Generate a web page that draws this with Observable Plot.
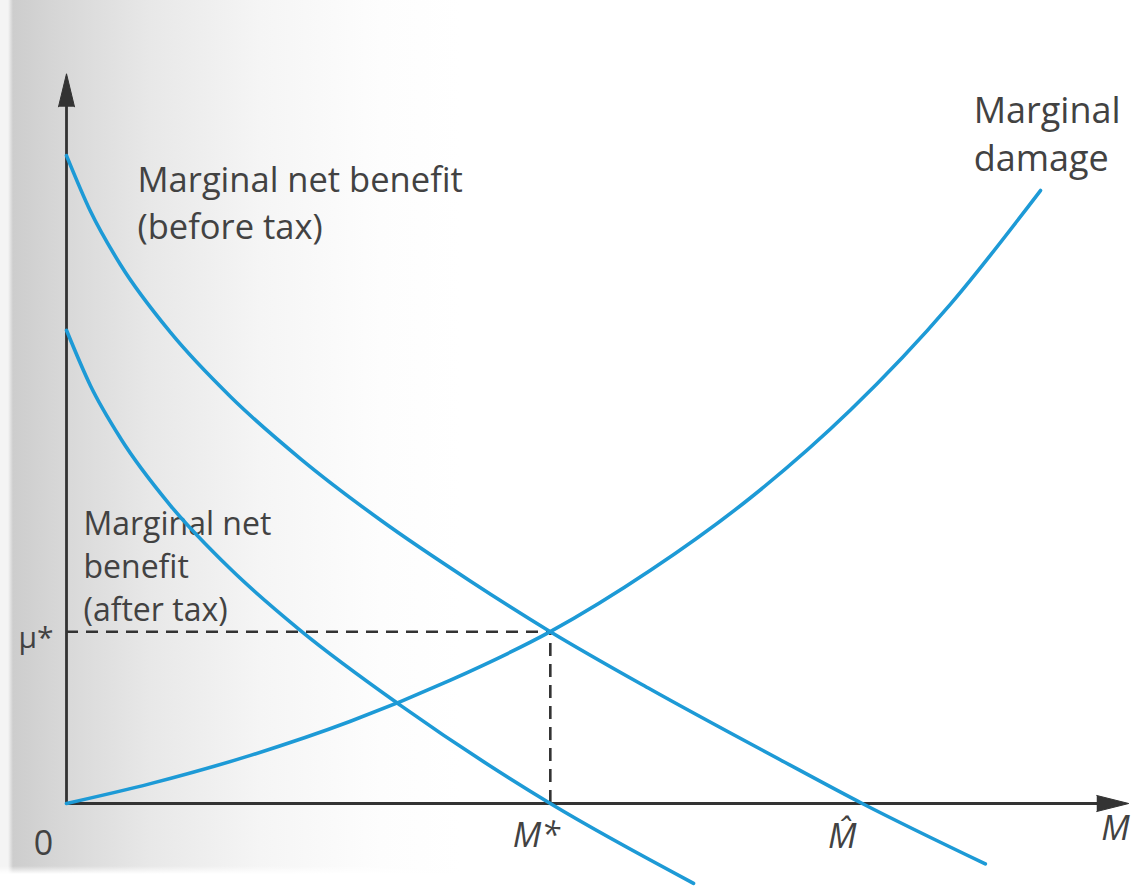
<!DOCTYPE html>
<html>
<head>
<meta charset="utf-8">
<script src="https://cdn.jsdelivr.net/npm/d3@7"></script>
<script src="https://cdn.jsdelivr.net/npm/@observablehq/plot@0.6"></script>
<style>
  html, body { margin: 0; padding: 0; background: #fff; }
  #chart {
    width: 1135px; height: 888px; overflow: hidden;
    background:
      linear-gradient(to bottom, rgba(255,255,255,0) 866px, #fff 874px),
      linear-gradient(to right, #f4f4f4 0px, #f4f4f4 8px, #cdcdcd 13px, #d7d7d7 60px, #e8e8e8 150px, #f5f5f5 260px, #fdfdfd 380px, #fff 460px);
  }
</style>
</head>
<body>
<div id="chart"></div>
<script>
// ---- Data (abstract units: x 0..100, y 0..100) ----
const beforeTaxX = [0, 2.26, 5.09, 9.8, 15.46, 22.06, 29.59, 38.08, 45.6, 55.04, 67.3, 75.0, 86.6];
const beforeTaxY = [89.0, 81.35, 74.0, 64.7, 55.87, 47.35, 38.94, 30.54, 23.6, 15.69, 5.98, 0, -8.3];

const afterTaxX = [0, 2.26, 5.09, 9.8, 15.46, 22.06, 31.48, 45.6, 59.1];
const afterTaxY = [65.0, 57.39, 50.18, 40.93, 32.2, 23.75, 13.48, 0, -10.96];

const damageX = [0, 7.92, 17.34, 26.77, 36.19, 45.6, 55.04, 64.47, 73.89, 83.32, 91.8];
const damageY = [0, 2.73, 6.61, 11.29, 16.95, 23.6, 32.03, 42.0, 54.05, 68.6, 84.2];

const muStar = 23.6;     // price level at the optimum
const mStar = 45.6;      // efficient emissions
const mHat = 75.0;       // emissions with no control
const mMax = 100;        // end of the M axis

const curveLabels = ["Marginal net benefit\n(before tax)", "Marginal\ndamage", "Marginal net\nbenefit\n(after tax)"];
const curveLabelX = [6.7, 85.5, 1.6];
const curveLabelY = [77.6, 86.9, 25.1];

// ---- Build tables ----
const toRows = (xs, ys) => xs.map((x, i) => ({x, y: ys[i]}));
const beforeTax = toRows(beforeTaxX, beforeTaxY);
const afterTax = toRows(afterTaxX, afterTaxY);
const damage = toRows(damageX, damageY);
const labels = curveLabels.map((t, i) => ({t, x: curveLabelX[i], y: curveLabelY[i]}));

const blue = "#1d9ad6";
const ink = "#333333";
const txt = "#424242";
const font = "Open Sans";
const lw = 3.6;

const label = (i, size) => Plot.text([labels[i]], {x: "x", y: "y", text: "t", textAnchor: "start",
  lineAnchor: "bottom", lineHeight: 1.34, fontSize: size, fontFamily: font, fill: txt});
const xLabel = (t, x, dx, dy) => Plot.text([t], {x: x, y: 0, text: d => d, textAnchor: "middle",
  lineAnchor: "top", dx, dy, fontSize: 34, fontStyle: "italic", fontFamily: font, fill: txt});

const chart = Plot.plot({
  width: 1135,
  height: 888,
  margin: 0,
  style: {background: "transparent", overflow: "visible"},
  x: {domain: [0, 100], range: [66, 1127], axis: null},
  y: {domain: [0, 100], range: [803, 75], axis: null},
  marks: [
    // curve labels (under the curves)
    label(0, 34.5),
    label(1, 36),
    label(2, 32),
    // dashed guides
    Plot.ruleY([muStar], {x1: 0, x2: mStar, stroke: ink, strokeWidth: 2.6, strokeDasharray: "12,8"}),
    Plot.ruleX([mStar], {y1: 0, y2: muStar, stroke: ink, strokeWidth: 2.6, strokeDasharray: "13,8"}),
    // axes
    Plot.ruleY([0], {x1: 0, x2: 97.5, stroke: ink, strokeWidth: 2.8}),
    Plot.ruleX([0], {y1: 0, y2: 96, stroke: ink, strokeWidth: 2.8}),
    Plot.vector([{x: 0, y: 95.7}], {x: "x", y: "y", shape: "spike", length: 33, r: 8, rotate: 0,
      anchor: "start", stroke: ink, strokeWidth: 1, fill: ink, fillOpacity: 1}),
    Plot.vector([{x: 97.1, y: 0}], {x: "x", y: "y", shape: "spike", length: 32, r: 8, rotate: 90,
      anchor: "start", stroke: ink, strokeWidth: 1, fill: ink, fillOpacity: 1}),
    // curves
    Plot.line(beforeTax, {x: "x", y: "y", curve: "monotone-x", stroke: blue, strokeWidth: lw}),
    Plot.line(afterTax, {x: "x", y: "y", curve: "monotone-x", stroke: blue, strokeWidth: lw}),
    Plot.line(damage, {x: "x", y: "y", curve: "monotone-x", stroke: blue, strokeWidth: lw}),
    // axis labels
    Plot.text(["\u03bc*"], {x: 0, y: muStar, text: d => d, textAnchor: "end", lineAnchor: "bottom",
      dx: -13, dy: 16, fontSize: 30, fontFamily: font, fill: txt}),
    Plot.text(["0"], {x: 0, y: 0, text: d => d, textAnchor: "middle", lineAnchor: "top",
      dx: -23, dy: 27, fontSize: 34, fontFamily: font, fill: txt}),
    xLabel("M*", mStar, -14, 19),
    xLabel("M\u0302", mHat, -20, 20),
    xLabel("M", mMax, -12, 12)
  ]
});
document.getElementById("chart").appendChild(chart);
</script>
</body>
</html>
